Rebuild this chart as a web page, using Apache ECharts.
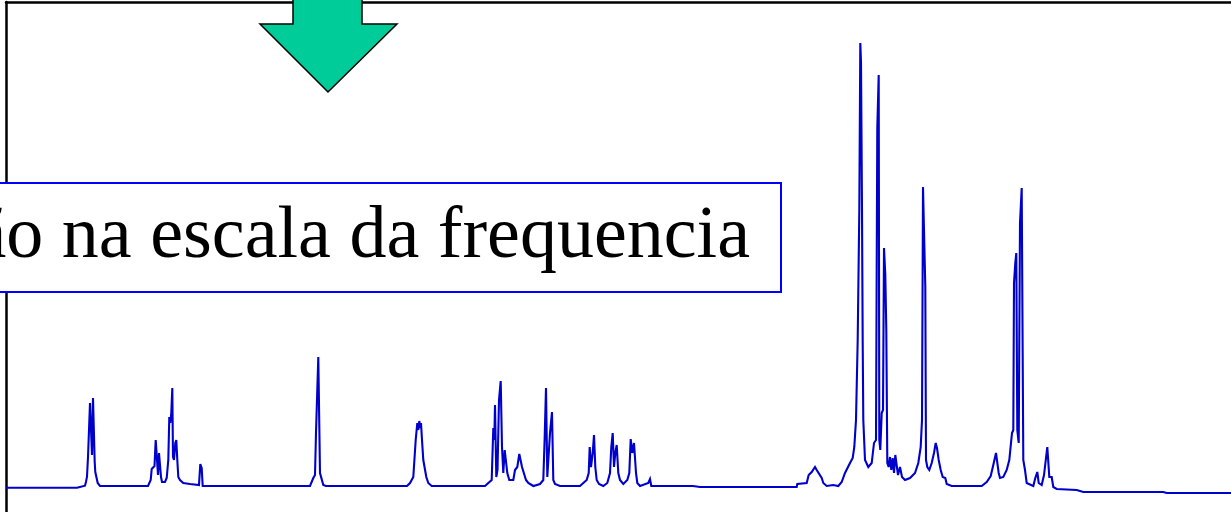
<!DOCTYPE html>
<html>
<head>
<meta charset="utf-8">
<title>Espectro</title>
<script src="https://cdn.jsdelivr.net/npm/echarts@6/dist/echarts.min.js"></script>
<style>
  html, body { margin: 0; padding: 0; background: #ffffff; }
  #chart { width: 1231px; height: 512px; }
</style>
</head>
<body>
<div id="chart"></div>
<script>
// Spectrum trace: channel position and signal intensity (arbitrary units)
const channel = [
  0, 71, 72, 79, 80, 81, 82, 84, 85.3, 86, 87, 88.3, 88.7, 89.3, 90.7, 91.7, 94, 142,
  144.7, 145.7, 147.3, 148.5, 149.7, 150.7, 152, 153, 154, 155, 156, 159, 160.7, 162.3,
  163.3, 164.3, 165.3, 166.3, 167, 168, 169.3, 170.3, 171.3, 172.3, 174, 177.3, 184, 193,
  194.3, 195.7, 196.7, 289, 289.5, 290.5, 304, 307.3, 309, 310, 311.3, 312.3, 313.3, 314,
  315.7, 317.3, 320, 375, 375.7, 376.5, 401, 404, 407.3, 409.7, 411.3, 412.3, 413.3, 414.2,
  415, 416, 417.3, 419.3, 420.3, 422.3, 425.7, 437, 437.3, 438, 479, 482.3, 485.7, 487.3,
  488.3, 489, 490.3, 491.5, 493, 494.7, 496, 497.3, 498.7, 500, 501.3, 503.3, 507.3, 509,
  511.3, 513.3, 514.7, 516, 518, 520, 522.3, 527.3, 534, 537.3, 538.7, 540, 541.3, 543,
  544, 546, 547.3, 549, 554, 574, 577.3, 580.7, 582.7, 583.7, 585, 586.7, 588, 589.3,
  590.7, 593, 597.3, 601.3, 604, 605.3, 606.7, 608, 609.3, 610.7, 612.3, 614, 617.3,
  621.3, 623.3, 624.7, 626.3, 628, 629.3, 630, 631.3, 634, 642.3, 644, 645.3, 687, 688,
  694, 700, 790.7, 791.3, 800.7, 802.7, 805.7, 809, 810.7, 812.3, 815.7, 817.3, 820.7,
  827.3, 832.3, 835.7, 839, 844, 846.7, 848.3, 850, 851.7, 852.7, 853.3, 854.3, 855, 856,
  856.7, 857.3, 859, 862.3, 865.7, 868, 870, 870.7, 871.3, 872.7, 873.3, 874.3, 875.7,
  877, 878, 879.3, 880.3, 881.3, 882.7, 884, 885.3, 886.7, 888, 889.3, 890.7, 892, 894,
  896, 899, 904, 909, 912.3, 914.7, 916, 917, 918.3, 919.3, 920, 921.3, 923.3, 925.7,
  928, 929.7, 931, 932.7, 934.7, 936.7, 939.3, 940.7, 945.7, 975.7, 980.7, 984.7, 987.3,
  990, 991.5, 992.7, 994, 997.3, 1000.7, 1003.3, 1006, 1007.3, 1008, 1009.3, 1010.3,
  1011.3, 1012.7, 1014, 1015.7, 1016.7, 1017.3, 1019, 1020.7, 1027.3, 1029.3, 1031.3,
  1032.7, 1035.7, 1038, 1040, 1041.3, 1042.3, 1043.3, 1045.7, 1047.3, 1050.7, 1070.7,
  1074, 1077.3, 1157.3, 1160.7, 1225
];
const intensity = [
  -0.7, -0.7, 1.3, 1.3, 5.3, 10.3, 30, 84, 84, 32, 89, 89, 25, 15, 14, 4, 1, 1,
  7, 18, 19, 21, 47, 32, 12, 34, 32, 10, 5, 5, 9, 27,
  70, 64, 74, 99, 30, 27, 44, 47, 27, 10, 7, 4, 3, 2,
  23, 19, 1, 1, 0, 1, 1, 9, 12, 54, 97, 130, 130, 14,
  12, 2, 1, 1, -1, 1, 1, 4, 10, 47, 64, 57, 66, 59,
  64, 47, 27, 27, 10, 4, 1, 1, -1, 1, 1, 4, 7, 59,
  47, 82, 10, 17, 87, 106, 40, 14, 37, 37, 14, 7, 7, 17,
  20, 33, 33, 20, 19, 7, 4, 1, 3, 7, 50, 99, 10, 12,
  54, 75, 7, 3, 1, 1, 4, 7, 14, 40, 20, 34, 52, 20,
  7, 3, 1, 4, 14, 40, 54, 20, 34, 42, 14, 7, 3,
  7, 14, 48, 34, 44, 44, 14, 4, 1, 4, 8, 1, 1, 0,
  0, 0, 0, 3, 4, 12, 15, 20, 17, 15, 9, 4, 1,
  2, 1, 5, 14, 24, 29, 40, 67, 147, 149, 277, 444, 425, 277,
  144, 67, 27, 20, 24, 44, 47, 220, 359, 412, 47, 37, 74,
  77, 239, 212, 157, 24, 20, 30, 17, 29, 14, 32, 30, 12, 20,
  10, 7, 9, 14, 24, 40, 67, 300, 300, 200, 27, 20, 17, 24,
  34, 44, 39, 27, 17, 10, 9, 3, 1, 1, 5, 11, 22,
  34, 32, 14, 9, 10, 17, 27, 54, 57, 204, 224, 234,
  57, 44, 264, 299, 297, 27, 17, 4, 1, 9, 15,
  4, 2, 12, 14, 40, 40, 10, 10, 0, -2, -3,
  -4, -5, -5, -6, -6
];

// Caption and pointer
const captionText = 'Representação na escala da frequencia';

const chart = echarts.init(document.getElementById('chart'), null, { renderer: 'canvas' });

const points = channel.map((c, i) => [c, intensity[i]]);

chart.setOption({
  animation: false,
  backgroundColor: '#ffffff',
  grid: { left: 6, right: 0, top: 2, bottom: 0, containLabel: false },
  xAxis: {
    type: 'value',
    position: 'top',
    min: 0,
    max: 1225,
    axisLine: { show: true, onZero: false, lineStyle: { color: '#000000', width: 2.5 } },
    axisTick: { show: false },
    axisLabel: { show: false },
    splitLine: { show: false }
  },
  yAxis: {
    type: 'value',
    min: -25,
    max: 485,
    axisLine: { show: true, onZero: false, lineStyle: { color: '#000000', width: 2.5 } },
    axisTick: { show: false },
    axisLabel: { show: false },
    splitLine: { show: false }
  },
  series: [{
    type: 'line',
    data: points,
    showSymbol: false,
    symbol: 'none',
    smooth: false,
    lineStyle: { color: '#0000cc', width: 2.1, join: 'miter', miterLimit: 4 },
    z: 3
  }],
  graphic: [
    {
      type: 'polygon',
      z: 100,
      shape: {
        points: [[293, -3], [362, -3], [362, 24], [397, 24], [328, 92], [260, 24], [293, 24]]
      },
      style: { fill: '#00cc99', stroke: '#000000', lineWidth: 1.5 }
    },
    {
      type: 'rect',
      z: 100,
      shape: { x: -10, y: 183, width: 791, height: 109 },
      style: { fill: '#ffffff', stroke: '#0000ff', lineWidth: 2 }
    },
    {
      type: 'text',
      z: 101,
      x: 750,
      y: 238,
      style: {
        text: captionText,
        fill: '#000000',
        font: '74px "Liberation Serif", "Times New Roman", serif',
        align: 'right',
        verticalAlign: 'middle'
      }
    }
  ]
});
</script>
</body>
</html>
